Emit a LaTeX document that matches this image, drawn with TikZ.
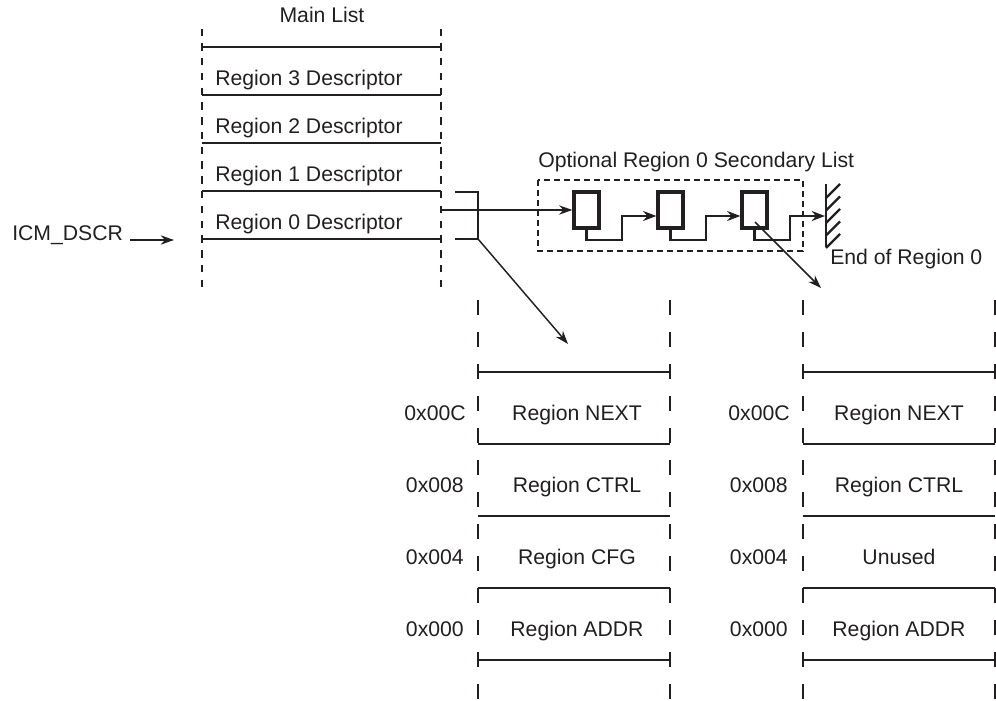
\documentclass[tikz,border=0pt]{standalone}
\usepackage{fontspec}
\setmainfont{Liberation Sans}
\usetikzlibrary{arrows.meta}
\definecolor{ink}{HTML}{231F20}
\begin{document}
\begin{tikzpicture}[x=0.75pt,y=-0.75pt,
  every node/.style={font=\fontsize{15.9}{18}\selectfont, text=ink, inner sep=0pt},
  hline/.style={draw=ink, line width=1.8pt},
  mainv/.style={draw=ink, line width=1.8pt, dash pattern=on 5.55pt off 5.53pt},
  memv/.style={draw=ink, line width=1.8pt, dash pattern=on 11.25pt off 12.75pt},
  ptr/.style={draw=ink, line width=1.1pt, -{Stealth[length=10pt,width=7pt]}},
  chain/.style={draw=ink, line width=2.1pt, -{Stealth[length=10pt,width=7.5pt]}},
  rec/.style={draw=ink, line width=2.4pt, minimum width=18.75pt, minimum height=27pt},
  frame/.style={draw=ink, line width=1.8pt, dash pattern=on 4.5pt off 3pt},
  thin/.style={draw=ink, line width=1.1pt}]
\useasboundingbox (0,0) rectangle (996,700);

% ---------- Main list ----------
\node[anchor=base] (mtitle) at (322,22) {Main List};
\draw[mainv] (202,28.5) -- (202,287);
\draw[mainv] (441,28.5) -- (441,287);
\foreach \yy in {47,95,143,191,239} \draw[hline] (202,\yy) -- (441,\yy);
\node[anchor=base west] (d3) at (215,85) {Region 3 Descriptor};
\node[anchor=base west] (d2) at (215,133) {Region 2 Descriptor};
\node[anchor=base west] (d1) at (215,181) {Region 1 Descriptor};
\node[anchor=base west] (d0) at (215,229) {Region 0 Descriptor};

% ICM_DSCR pointer
\node[anchor=base west] (icm) at (12,240) {ICM\_DSCR};
\coordinate (icmE) at (130,240);
\coordinate (icmT) at (174,240);
\draw[ptr] (icmE) -- (icmT);

% bracket on Region 0
\coordinate (brA) at (455,192);
\coordinate (brB) at (478,192);
\coordinate (brC) at (478,239);
\coordinate (brD) at (455,239);
\draw[thin] (brA) -- (brB) -- (brC) -- (brD);

% ---------- Secondary list ----------
\node[anchor=base west] (stitle) at (538,167) {Optional Region 0 Secondary List};
\draw[frame] (538,180) rectangle (803,251);
\node[rec] (b1) at (586.5,210) {};
\node[rec] (b2) at (670.5,210) {};
\node[rec] (b3) at (754.5,210) {};
\coordinate (r0out) at (441,210);
\draw[ptr] (r0out) -- (b1.west);
\draw[chain] (b1.south) -- (586.5,240) -- (622,240) -- (622,216) -- ([yshift=-4.5pt]b2.west);
\draw[chain] (b2.south) -- (670.5,240) -- (706,240) -- (706,216) -- ([yshift=-4.5pt]b3.west);
% wall
\coordinate (wallT) at (826,184);
\coordinate (wallB) at (826,247);
\coordinate (wallIn) at (825,216);
\draw[chain] (b3.south) -- (754.5,240) -- (790,240) -- (790,216) -- (wallIn);
\draw[draw=ink, line width=2.1pt] (wallT) -- (wallB);
\foreach \yy in {198,210.5,223,235.5,248}
  \draw[draw=ink, line width=1.8pt] (826,\yy) -- (840,\yy-14);
\node[anchor=base west] (eor) at (830,264) {End of Region 0};

% ---------- pointers to memory blocks ----------
\coordinate (blkA) at (568,344);
\draw[ptr] (brC) -- (blkA);
\coordinate (b3in) at (755,222);
\coordinate (blkB) at (821,288);
\draw[ptr] (b3in) -- (blkB);

% ---------- Memory block A ----------
\draw[memv] (478,300) -- (478,700);
\draw[memv] (670,300) -- (670,700);
\foreach \yy in {372,444,516,588,660} \draw[hline] (478,\yy) -- (670,\yy);
\node[anchor=base] (aNext) at (577,420) {Region NEXT};
\node[anchor=base] (aCtrl) at (577,492) {Region CTRL};
\node[anchor=base] (aCfg) at (577,564) {Region CFG};
\node[anchor=base] (aAddr) at (577,636) {Region ADDR};
\node[anchor=base east] (aoC) at (466,420) {0x00C};
\node[anchor=base east] (ao8) at (464,492) {0x008};
\node[anchor=base east] (ao4) at (464,564) {0x004};
\node[anchor=base east] (ao0) at (464,636) {0x000};

% ---------- Memory block B ----------
\draw[memv] (803,300) -- (803,700);
\draw[memv] (995,300) -- (995,700);
\foreach \yy in {372,444,516,588,660} \draw[hline] (803,\yy) -- (995,\yy);
\node[anchor=base] (bNext) at (899,420) {Region NEXT};
\node[anchor=base] (bCtrl) at (899,492) {Region CTRL};
\node[anchor=base] (bUnused) at (899,564) {Unused};
\node[anchor=base] (bAddr) at (899,636) {Region ADDR};
\node[anchor=base east] (boC) at (790,420) {0x00C};
\node[anchor=base east] (bo8) at (788,492) {0x008};
\node[anchor=base east] (bo4) at (788,564) {0x004};
\node[anchor=base east] (bo0) at (788,636) {0x000};
\end{tikzpicture}
\end{document}
